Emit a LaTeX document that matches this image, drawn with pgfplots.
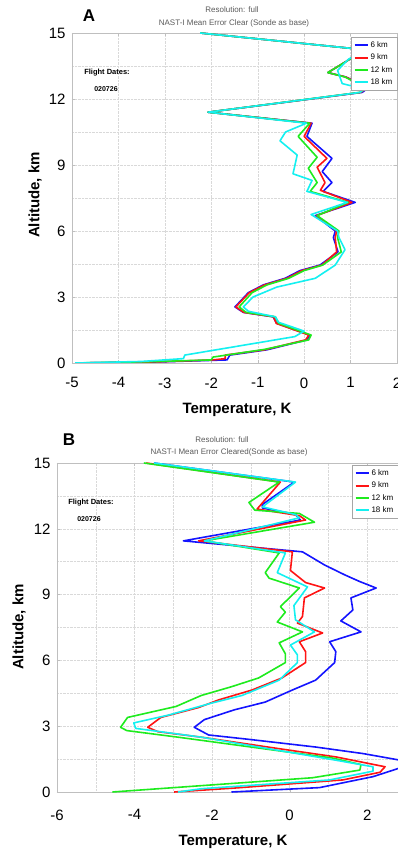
\documentclass[border=0pt]{standalone}
\usepackage{fontspec}
\setmainfont{Liberation Sans}
\usepackage{pgfplots}
\pgfplotsset{compat=1.18}
\definecolor{cb}{RGB}{20,20,255}
\definecolor{cr}{RGB}{255,20,20}
\definecolor{cg}{RGB}{30,235,30}
\definecolor{cc}{RGB}{20,240,240}
\definecolor{titlegray}{RGB}{90,90,90}
\pgfplotsset{
  myax/.style={
    scale only axis, anchor=south west,
    ymin=0, ymax=15, ytick={0,3,...,15}, minor ytick={1.5,4.5,...,13.5},
    xmajorgrids, ymajorgrids, yminorgrids,
    major grid style={densely dotted, gray!30},
    minor grid style={densely dotted, gray!30},
    axis line style={gray!50}, tick style={gray!50},
    major tick length=3pt, minor tick length=0pt, tick align=inside,
    ticklabel style={font=\fontsize{15}{17}\selectfont},
    /pgf/number format/assume math mode=true,
    yticklabel shift=3pt,
    every axis plot/.append style={line width=1.6pt, line join=round},
    legend cell align=left,
    legend image code/.code={\draw[#1, line width=2pt] (0pt,0pt) -- (13pt,0pt);},
  }
}
\begin{document}
\begin{tikzpicture}
% ---------------- Panel A ----------------
\begin{axis}[myax, at={(72pt,489pt)}, width=325pt, height=330pt,
  xmin=-5, xmax=2, xtick={-5,...,2}, xticklabel shift=11pt,
  legend style={at={(1,1)}, anchor=north east, xshift=0pt, yshift=-4pt,
    font=\fontsize{8}{9}\selectfont, draw=gray!70, row sep=1pt, inner sep=2.5pt}]
\addplot[cb] coordinates {(-4.93,0) (-3.1,0.05) (-1.66,0.14) (-1.6,0.36) (-0.8,0.6) (0.06,1.05) (0.12,1.27) (-0.59,1.8) (-0.67,2.1) (-1.31,2.3) (-1.49,2.55) (-1.2,3.2) (-0.88,3.55) (-0.41,3.85) (-0.09,4.2) (0.34,4.45) (0.73,5.05) (0.63,5.7) (0.67,6.0) (0.24,6.7) (1.1,7.3) (0.41,7.8) (0.6,8.2) (0.39,8.7) (0.6,9.3) (0.06,10.3) (0.17,10.9) (-2.07,11.4) (1.25,12.3) (1.38,12.5) (0.9,13.0) (0.51,13.2) (0.9,13.7) (1.3,14.24) (-2.24,15)};
\addlegendentry{6 km}
\addplot[cr] coordinates {(-4.93,0) (-3.2,0.05) (-1.96,0.14) (-1.7,0.2) (-1.7,0.36) (-0.85,0.6) (0.03,1.05) (0.1,1.27) (-0.6,1.8) (-0.66,2.1) (-1.3,2.3) (-1.47,2.55) (-1.18,3.2) (-0.85,3.55) (-0.37,3.85) (-0.05,4.2) (0.38,4.45) (0.7,5.05) (0.67,5.7) (0.7,6.0) (0.27,6.7) (1.03,7.3) (0.35,7.85) (0.45,8.2) (0.28,8.9) (0.49,9.3) (0.0,10.3) (0.15,10.9) (-2.07,11.4) (1.22,12.3) (1.35,12.5) (0.9,13.0) (0.51,13.2) (0.9,13.7) (1.3,14.24) (-2.24,15)};
\addlegendentry{9 km}
\addplot[cg] coordinates {(-4.93,0) (-3.3,0.06) (-2.0,0.14) (-1.96,0.27) (-0.85,0.62) (0.1,1.05) (0.15,1.27) (-0.55,1.8) (-0.62,2.1) (-1.25,2.3) (-1.4,2.55) (-1.12,3.2) (-0.8,3.55) (-0.33,3.85) (0.0,4.2) (0.4,4.45) (0.8,5.05) (0.72,5.7) (0.75,6.0) (0.28,6.7) (0.95,7.3) (0.13,7.8) (0.28,8.2) (0.09,8.85) (0.28,9.35) (-0.13,10.3) (0.12,10.9) (-2.07,11.4) (1.2,12.3) (1.33,12.5) (0.88,13.0) (0.51,13.2) (0.9,13.7) (1.3,14.24) (-2.24,15)};
\addlegendentry{12 km}
\addplot[cc] coordinates {(-4.93,0) (-3.5,0.07) (-2.6,0.2) (-2.57,0.36) (-0.2,1.2) (0.0,1.45) (-0.55,1.85) (-0.62,2.1) (-1.2,2.35) (-1.31,2.55) (-1.1,3.0) (-0.59,3.45) (0.24,3.85) (0.67,4.45) (0.88,5.15) (0.75,5.7) (0.72,6.0) (0.15,6.75) (0.93,7.3) (0.06,7.8) (0.17,8.3) (-0.24,8.6) (-0.15,9.45) (-0.52,10.1) (-0.4,10.5) (0.05,10.9) (-2.07,11.4) (1.2,12.3) (1.3,12.45) (0.82,12.7) (0.72,13.3) (0.95,13.8) (1.3,14.24) (-2.24,15)};
\addlegendentry{18 km}
\end{axis}
% ---------------- Panel B ----------------
\begin{axis}[myax, at={(57pt,60pt)}, width=349pt, height=329pt,
  xmin=-6, xmax=3, xtick={-6,-4,...,2}, minor xtick={-5,-3,...,3}, xminorgrids,
  xticklabel shift=14pt,
  legend style={at={(1,1)}, anchor=north east, xshift=-8pt, yshift=-2pt,
    font=\fontsize{8}{9}\selectfont, draw=gray!70, row sep=1pt, inner sep=2.5pt}]
\addplot[cb] coordinates {(-1.5,0) (0.77,0.2) (2.15,0.7) (2.85,1.1) (3.3,1.3) (2.85,1.45) (1.9,1.75) (0.67,2.05) (-1.05,2.4) (-2.09,2.6) (-2.46,2.95) (-2.2,3.3) (-1.42,3.75) (-0.63,4.1) (0.07,4.65) (0.67,5.1) (1.16,5.9) (1.19,6.4) (1.03,6.85) (1.84,7.3) (1.32,7.8) (1.63,8.3) (1.58,8.85) (2.23,9.3) (1.8,9.6) (1.42,9.9) (0.9,10.35) (0.33,10.95) (-2.74,11.45) (0.28,12.4) (0.15,12.65) (-0.7,12.95) (-0.71,13.1) (0.12,14.13) (-3.5,15)};
\addlegendentry{6 km}
\addplot[cr] coordinates {(-2.98,0) (-1.42,0.18) (1.37,0.55) (2.33,0.9) (2.46,1.15) (1.19,1.6) (-0.37,2.0) (-2.28,2.5) (-3.4,2.75) (-3.66,2.95) (-3.32,3.4) (-2.35,3.85) (-1.83,4.2) (-0.97,4.65) (-0.2,5.2) (0.41,5.9) (0.41,6.4) (0.25,6.85) (0.85,7.25) (0.2,7.7) (0.33,8.0) (0.38,8.85) (0.9,9.3) (0.41,9.55) (0.02,10.1) (0.07,10.95) (-2.35,11.45) (0.41,12.4) (0.25,12.6) (-0.84,12.9) (-0.24,14.13) (-3.7,15)};
\addlegendentry{9 km}
\addplot[cg] coordinates {(-4.57,0) (0.59,0.65) (1.81,1.0) (1.84,1.25) (1.1,1.55) (-2.88,2.5) (-4.2,2.8) (-4.36,2.95) (-4.18,3.4) (-2.93,3.9) (-2.28,4.4) (-1.5,4.8) (-0.8,5.2) (-0.11,5.9) (-0.11,6.3) (-0.27,6.8) (0.33,7.3) (-0.32,7.75) (-0.11,8.2) (-0.24,8.45) (0.25,9.3) (-0.53,9.75) (-0.63,10.0) (-0.27,10.9) (-2.2,11.45) (0.64,12.3) (0.25,12.7) (-0.9,12.85) (-1.05,13.2) (-0.27,14.13) (-3.76,15)};
\addlegendentry{12 km}
\addplot[cc] coordinates {(-2.88,0) (-2.28,0.15) (1.03,0.55) (2.15,0.95) (2.15,1.15) (1.19,1.45) (-2.28,2.5) (-3.97,2.9) (-4.02,3.15) (-3.14,3.5) (-2.02,4.05) (-1.23,4.4) (-0.27,5.1) (0.2,5.9) (0.2,6.25) (0.02,6.7) (0.64,7.3) (0.15,7.85) (0.11,8.5) (0.46,9.35) (-0.32,10.0) (-0.11,10.9) (-2.2,11.45) (0.25,12.5) (0.15,12.65) (-0.7,13.0) (0.15,14.13) (-3.5,15)};
\addlegendentry{18 km}
\end{axis}
% ---------------- texts ----------------
\node[font=\fontsize{17}{20}\selectfont\bfseries] at (89pt,836pt) {A};
\node[font=\fontsize{8}{9}\selectfont, text=titlegray] at (232pt,842pt) {Resolution: full};
\node[font=\fontsize{8}{9}\selectfont, text=titlegray] at (234pt,829pt) {NAST-I Mean Error Clear (Sonde as base)};
\node[font=\fontsize{7.5}{9}\selectfont\bfseries] at (107pt,779pt) {Flight Dates:};
\node[font=\fontsize{7}{9}\selectfont\bfseries] at (106pt,763pt) {020726};
\node[font=\fontsize{15}{17}\selectfont\bfseries] at (237pt,442pt) {Temperature, K};
\node[font=\fontsize{15}{17}\selectfont\bfseries, rotate=90] at (35pt,657pt) {Altitude, km};
\node[font=\fontsize{17}{20}\selectfont\bfseries] at (69pt,412pt) {B};
\node[font=\fontsize{8}{9}\selectfont, text=titlegray] at (222pt,412pt) {Resolution: full};
\node[font=\fontsize{8}{9}\selectfont, text=titlegray] at (229pt,400pt) {NAST-I Mean Error Cleared(Sonde as base)};
\node[font=\fontsize{7.5}{9}\selectfont\bfseries] at (91pt,349pt) {Flight Dates:};
\node[font=\fontsize{7}{9}\selectfont\bfseries] at (89pt,333pt) {020726};
\node[font=\fontsize{15}{17}\selectfont\bfseries] at (233pt,10pt) {Temperature, K};
\node[font=\fontsize{15}{17}\selectfont\bfseries, rotate=90] at (19pt,225pt) {Altitude, km};
\pgfresetboundingbox
\useasboundingbox (0pt,0pt) rectangle (398pt,852pt);
\end{tikzpicture}
\end{document}
